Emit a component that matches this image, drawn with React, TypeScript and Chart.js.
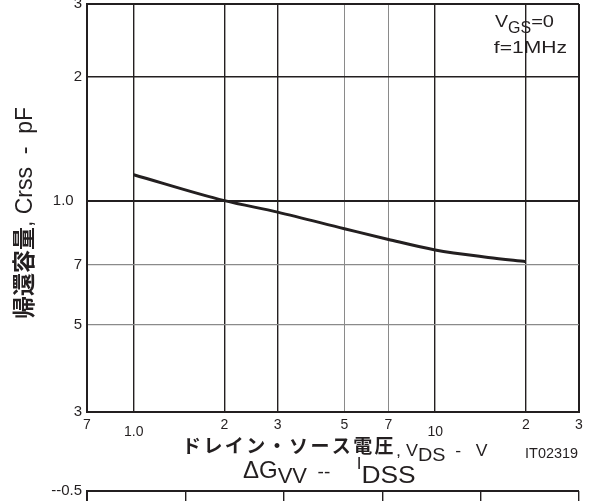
import React, { useEffect, useRef } from 'react';
import { Chart, registerables } from 'chart.js';

Chart.register(...registerables);

// ---- data ----
const VDS = [1, 2, 3, 5, 7, 10, 15, 20];
const CRSS = [1.156, 1.0, 0.938, 0.855, 0.805, 0.759, 0.728, 0.711];

const X_MIN = 0.7;
const X_MAX = 30;
const X_TICKS = [0.7, 1, 2, 3, 5, 7, 10, 20, 30];
const X_TICK_LABELS = ['7', '1.0', '2', '3', '5', '7', '10', '2', '3'];
const X_LOWERED = [1, 10];
const X_LIGHT = [5, 7];

const Y_MIN = 0.307;
const Y_MAX = 3;
const Y_TICKS = [0.307, 0.5, 0.7, 1, 2, 3];
const Y_TICK_LABELS = ['3', '5', '7', '1.0  ', '2', '3'];
const Y_LIGHT = [0.5, 0.7];

// second (cut-off) chart below
const X2_TICKS = [0, 1, 2, 3, 4, 5];
const Y2_TICKS = [-0.5];
const Y2_TICK_LABELS = ['--0.5'];

const INK = '#231f20';
const GREY = '#8a8a8a';
const SANS = '"Liberation Sans", Arial, sans-serif';
const CJK = '"Noto Sans CJK JP", "Noto Sans CJK SC", sans-serif';

type Seg = { t: string; font: string; dy?: number; sx?: number; ls?: string };

function drawSegs(ctx: CanvasRenderingContext2D, segs: Seg[], x: number, y: number, align: 'left' | 'center' | 'right') {
  ctx.save();
  ctx.fillStyle = INK;
  ctx.textBaseline = 'alphabetic';
  ctx.textAlign = 'left';
  const widths = segs.map((s) => {
    ctx.font = s.font;
    (ctx as any).letterSpacing = s.ls || '0px';
    return ctx.measureText(s.t).width * (s.sx || 1);
  });
  const total = widths.reduce((a, b) => a + b, 0);
  let cx = align === 'left' ? x : align === 'center' ? x - total / 2 : x - total;
  segs.forEach((s, i) => {
    ctx.font = s.font;
    (ctx as any).letterSpacing = s.ls || '0px';
    ctx.save();
    ctx.translate(cx, y + (s.dy || 0));
    ctx.scale(s.sx || 1, 1);
    ctx.fillText(s.t, 0, 0);
    ctx.restore();
    cx += widths[i];
  });
  ctx.restore();
}

const textPlugin = {
  id: 'texts',
  afterDraw(chart: any) {
    const ctx: CanvasRenderingContext2D = chart.ctx;
    const area = chart.chartArea;
    // annotation top-right
    drawSegs(ctx, [
      { t: 'V', font: `17px ${SANS}`, sx: 1.15 },
      { t: 'GS', font: `16px ${SANS}`, dy: 6 },
      { t: '=0', font: `16px ${SANS}`, sx: 1.25 },
    ], area.right - 84, area.top + 23, 'left');
    drawSegs(ctx, [{ t: 'f=1MHz', font: `17px ${SANS}`, sx: 1.24 }], area.right - 12, area.top + 49, 'right');

    // y-axis title (rotated)
    ctx.save();
    ctx.translate(32, 213);
    ctx.rotate(-Math.PI / 2);
    drawSegs(ctx, [
      { t: '帰還容量', font: `bold 23px ${CJK}` },
      { t: ', Crss  -  pF', font: `23px ${SANS}` },
    ], 0, 0, 'center');
    ctx.restore();

    // x-axis title
    drawSegs(ctx, [
      { t: 'ドレイン・ソース電圧', font: `bold 19px ${CJK}`, ls: '2.4px' },
      { t: ', V', font: `16px ${SANS}`, dy: 3, sx: 1.12 },
      { t: 'DS', font: `18px ${SANS}`, dy: 8, sx: 1.1 },
      { t: '  -   V', font: `16px ${SANS}`, dy: 3, sx: 1.1 },
    ], 182, 453, 'left');
    drawSegs(ctx, [{ t: 'IT02319', font: `14px ${SANS}`, sx: 1.03 }], area.right - 1, 458, 'right');

    // title of the chart below
    drawSegs(ctx, [
      { t: 'ΔG', font: `24px ${SANS}` },
      { t: 'VV', font: `22px ${SANS}`, dy: 5 },
      { t: '  --     ', font: `19px ${SANS}` },
      { t: 'I', font: `17px ${SANS}`, dy: -9 },
      { t: 'DSS', font: `24px ${SANS}`, dy: 5, sx: 1.1 },
    ], 243, 478, 'left');
  },
};

function gridColor(light: number[]) {
  return (c: any) => (c.tick && light.includes(c.tick.value) ? GREY : INK);
}

export default function App() {
  const ref1 = useRef<HTMLCanvasElement>(null);
  const ref2 = useRef<HTMLCanvasElement>(null);

  useEffect(() => {
    const c1 = new Chart(ref1.current!, {
      type: 'line',
      data: {
        datasets: [
          {
            data: VDS.map((x, i) => ({ x, y: CRSS[i] })),
            borderColor: INK,
            borderWidth: 3,
            pointRadius: 0,
            cubicInterpolationMode: 'monotone',
            fill: false,
          },
        ],
      },
      options: {
        responsive: false,
        animation: false,
        events: [],
        layout: { padding: { top: 4, right: 24, left: 0, bottom: 0 } },
        plugins: { legend: { display: false }, tooltip: { enabled: false }, title: { display: false } },
        scales: {
          x: {
            type: 'logarithmic',
            bounds: 'data',
            min: X_MIN,
            max: X_MAX,
            afterBuildTicks: (s: any) => {
              s.ticks = X_TICKS.map((v) => ({ value: v }));
            },
            afterFit: (s: any) => {
              s.height = 89;
              s.paddingLeft = 0;
              s.paddingRight = 0;
            },
            ticks: {
              autoSkip: false,
              maxRotation: 0,
              minRotation: 0,
              padding: 10,
              color: INK,
              font: { family: SANS, size: 14, lineHeight: '7px' },
              callback: (_v: any, i: number) => {
                const v = X_TICKS[i];
                return X_LOWERED.includes(v) ? ['', X_TICK_LABELS[i]] : X_TICK_LABELS[i];
              },
            },
            grid: {
              drawTicks: false,
              color: gridColor(X_LIGHT),
              lineWidth: (c: any) => {
                const v = c.tick && c.tick.value;
                if (v === X_MIN || v === X_MAX) return 2;
                return X_LIGHT.includes(v) ? 1 : 1.4;
              },
            },
            border: { display: true, color: INK, width: 2 },
          },
          y: {
            type: 'logarithmic',
            bounds: 'data',
            min: Y_MIN,
            max: Y_MAX,
            afterBuildTicks: (s: any) => {
              s.ticks = Y_TICKS.map((v) => ({ value: v }));
            },
            afterFit: (s: any) => {
              s.width = 87;
              s.paddingTop = 0;
              s.paddingBottom = 0;
            },
            ticks: {
              autoSkip: false,
              padding: 5,
              color: INK,
              font: { family: SANS, size: 15 },
              callback: (_v: any, i: number) => Y_TICK_LABELS[i],
            },
            grid: {
              drawTicks: false,
              color: gridColor(Y_LIGHT),
              lineWidth: (c: any) => {
                const v = c.tick && c.tick.value;
                if (v === Y_MIN || v === Y_MAX || v === 1) return 2;
                return Y_LIGHT.includes(v) ? 1.2 : 1.4;
              },
            },
            border: { display: true, color: INK, width: 2 },
          },
        },
      },
      plugins: [textPlugin],
    } as any);

    const c2 = new Chart(ref2.current!, {
      type: 'line',
      data: { datasets: [] },
      options: {
        responsive: false,
        animation: false,
        events: [],
        layout: { padding: { top: 21, right: 24, left: 0, bottom: 0 } },
        plugins: { legend: { display: false }, tooltip: { enabled: false } },
        scales: {
          x: {
            type: 'linear',
            bounds: 'data',
            min: X2_TICKS[0],
            max: X2_TICKS[X2_TICKS.length - 1],
            afterBuildTicks: (s: any) => {
              s.ticks = X2_TICKS.map((v) => ({ value: v }));
            },
            afterFit: (s: any) => {
              s.paddingLeft = 0;
              s.paddingRight = 0;
            },
            ticks: { display: false },
            grid: { drawTicks: false, color: INK, lineWidth: 1.4 },
            border: { display: true, color: INK, width: 2 },
          },
          y: {
            type: 'linear',
            bounds: 'data',
            min: -3,
            max: Y2_TICKS[0],
            afterBuildTicks: (s: any) => {
              s.ticks = Y2_TICKS.map((v) => ({ value: v }));
            },
            afterFit: (s: any) => {
              s.width = 87;
              s.paddingTop = 0;
              s.paddingBottom = 0;
            },
            ticks: {
              padding: 5,
              color: INK,
              font: { family: SANS, size: 15 },
              callback: (_v: any, i: number) => Y2_TICK_LABELS[i],
            },
            grid: { drawTicks: false, color: INK, lineWidth: 2 },
            border: { display: true, color: INK, width: 2 },
          },
        },
      },
    } as any);

    return () => {
      c1.destroy();
      c2.destroy();
    };
  }, []);

  return (
    <div style={{ position: 'fixed', left: 0, top: 0, width: 603, height: 501, overflow: 'hidden', background: '#fff' }}>
      <canvas ref={ref1} width={603} height={501} style={{ position: 'absolute', left: 0, top: 0, width: 603, height: 501 }} />
      <canvas ref={ref2} width={603} height={200} style={{ position: 'absolute', left: 0, top: 470, width: 603, height: 200 }} />
    </div>
  );
}
